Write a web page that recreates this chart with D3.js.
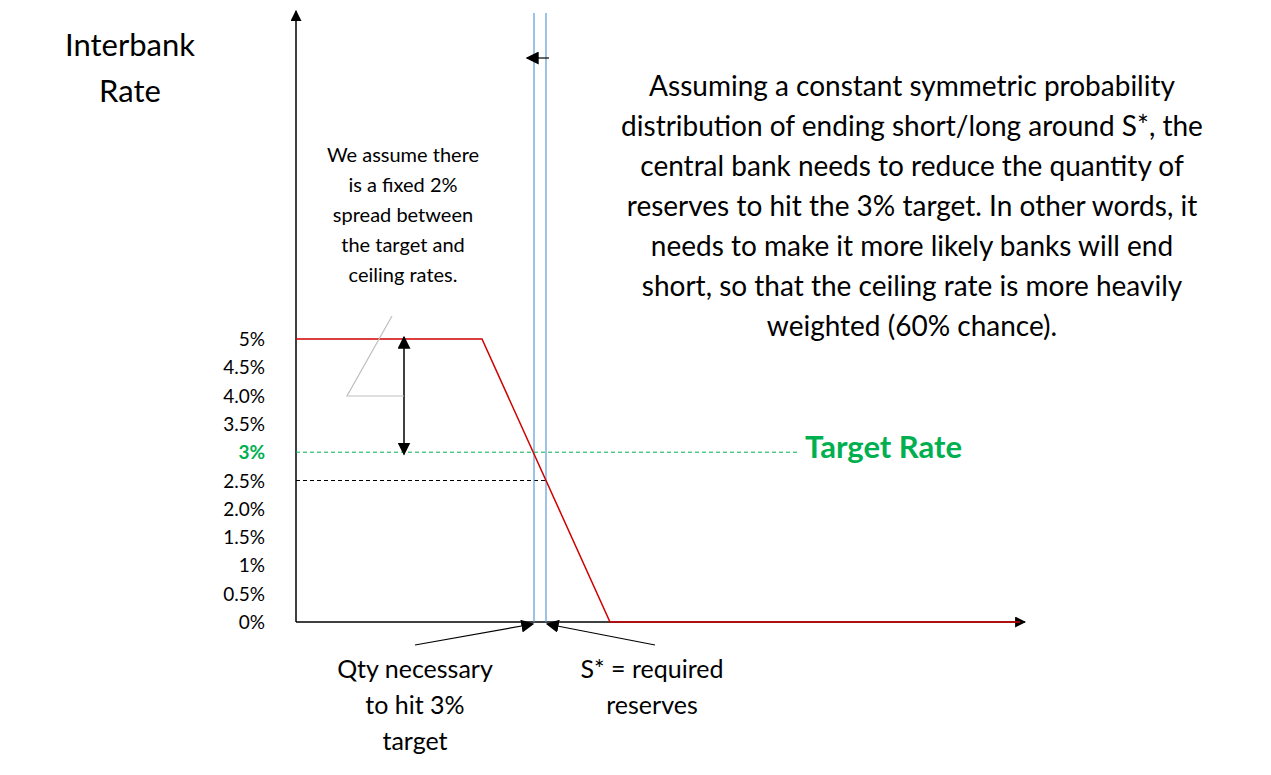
<!DOCTYPE html>
<html><head><meta charset="utf-8">
<script src="https://cdn.jsdelivr.net/npm/d3@7"></script>
<style>body{margin:0;background:#fff}svg{font-family:Lato,"Open Sans",sans-serif}</style>
</head><body><main></main>
<script>
const width = 1271, height = 775;
const yTicks = [0, 0.5, 1, 1.5, 2, 2.5, 3, 3.5, 4, 4.5, 5];
const yTickLabels = ['0%', '0.5%', '1%', '1.5%', '2.0%', '2.5%', '3%', '3.5%', '4.0%', '4.5%', '5%'];
// demand curve: quantity (axis units) vs rate (%)
const curveQty = [0, 186, 314, 724];
const curveRate = [5, 5, 0, 0];
const qtyTarget = 238, qtyRequired = 250;
const targetRate = 3, lowerRate = 2.5, ceilingRate = 5;
const paragraph = ['Assuming a constant symmetric probability', 'distribution of ending short/long around S*, the',
  'central bank needs to reduce the quantity of', 'reserves to hit the 3% target. In other words, it',
  'needs to make it more likely banks will end', 'short, so that the ceiling rate is more heavily', 'weighted (60% chance).'];
const note = ['We assume there', 'is a fixed 2%', 'spread between', 'the target and', 'ceiling rates.'];

const x = d3.scaleLinear().domain([0, 729]).range([296, 1025]);
const y = d3.scaleLinear().domain([0, 5]).range([622, 339]);

const svg = d3.select('main').append('svg').attr('width', width).attr('height', height);
const defs = svg.append('defs');
const marker = (id, size) => defs.append('marker').attr('id', id).attr('viewBox', '0 0 10 10')
  .attr('refX', 9).attr('refY', 5).attr('markerUnits', 'userSpaceOnUse')
  .attr('markerWidth', size).attr('markerHeight', size)
  .attr('orient', 'auto-start-reverse').append('path').attr('d', 'M0,0L10,5L0,10z').attr('fill', '#000');
marker('arr', 13);
marker('arrS', 11);

// axes
svg.append('line').attr('x1', x(0)).attr('x2', x(0)).attr('y1', 622).attr('y2', 11)
  .attr('stroke', '#000').attr('stroke-width', 1.5).attr('marker-end', 'url(#arrS)');
svg.append('line').attr('x1', x(0)).attr('x2', x(729)).attr('y1', y(0)).attr('y2', y(0))
  .attr('stroke', '#000').attr('stroke-width', 1.5).attr('marker-end', 'url(#arrS)');

svg.append('g').selectAll('text').data(yTicks).enter().append('text')
  .attr('x', 265).attr('y', d => y(d) + 7).attr('text-anchor', 'end')
  .attr('font-size', 19)
  .attr('fill', d => d === 3 ? '#00b050' : '#000').attr('font-weight', d => d === 3 ? 'bold' : 'normal')
  .text((d, i) => yTickLabels[i]);

// dashed lines
svg.append('line').attr('x1', x(0)).attr('x2', 800).attr('y1', y(targetRate)).attr('y2', y(targetRate))
  .attr('stroke', '#00b050').attr('stroke-dasharray', '4,3');
svg.append('line').attr('x1', x(0)).attr('x2', x(qtyRequired)).attr('y1', y(lowerRate)).attr('y2', y(lowerRate))
  .attr('stroke', '#000').attr('stroke-dasharray', '4,3');

// blue verticals
[qtyTarget, qtyRequired].forEach(q => svg.append('line').attr('x1', x(q)).attr('x2', x(q))
  .attr('y1', 13).attr('y2', y(0)).attr('stroke', '#5b9bd5').attr('stroke-width', 1.2));

// red curve
const pts = curveQty.map((q, i) => [x(q), y(curveRate[i])]);
svg.append('path').attr('d', d3.line()(pts)).attr('fill', 'none').attr('stroke', '#d00000').attr('stroke-width', 1.5);

// double arrow
svg.append('line').attr('x1', 404).attr('x2', 404).attr('y1', y(targetRate) + 2).attr('y2', y(ceilingRate) - 2)
  .attr('stroke', '#000').attr('stroke-width', 1.5).attr('marker-start', 'url(#arr)').attr('marker-end', 'url(#arr)');

// callout gray lines
svg.append('path').attr('d', 'M392,316L347,396L404,396').attr('fill', 'none').attr('stroke', '#bfbfbf').attr('stroke-width', 1.2);

// small top arrow
svg.append('line').attr('x1', 549).attr('x2', 527).attr('y1', 58).attr('y2', 58)
  .attr('stroke', '#000').attr('stroke-width', 1.2).attr('marker-end', 'url(#arr)');

// bottom pointer arrows
svg.append('line').attr('x1', 415).attr('y1', 645).attr('x2', x(qtyTarget) - 1).attr('y2', 624)
  .attr('stroke', '#000').attr('stroke-width', 1.2).attr('marker-end', 'url(#arr)');
svg.append('line').attr('x1', 655).attr('y1', 645).attr('x2', x(qtyRequired) + 1).attr('y2', 624)
  .attr('stroke', '#000').attr('stroke-width', 1.2).attr('marker-end', 'url(#arr)');

const lines = (arr, cx, y0, dy, size, fill = '#000') => svg.append('g').selectAll('text').data(arr).enter()
  .append('text').attr('x', cx).attr('y', (d, i) => y0 + i * dy).attr('text-anchor', 'middle')
  .attr('font-size', size).attr('fill', fill).text(d => d);

lines(['Interbank', 'Rate'], 130, 56, 46, 31);
lines(note, 403, 162, 30, 20);
lines(paragraph, 912, 96, 40, 28);
lines(['Qty necessary', 'to hit 3%', 'target'], 415, 678, 36, 25);
lines(['S* = required', 'reserves'], 652, 678, 36, 25);
svg.append('text').attr('x', 805).attr('y', 458).attr('font-size', 31).attr('font-weight', 'bold')
  .attr('fill', '#00b050').text('Target Rate');
</script></body></html>
